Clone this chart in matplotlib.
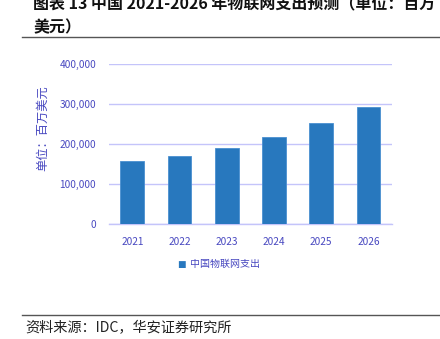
import matplotlib.pyplot as plt
from matplotlib.lines import Line2D
from matplotlib.ticker import FuncFormatter

plt.rcParams['font.family'] = ['Noto Sans CJK SC', 'DejaVu Sans']

# 中国物联网支出（百万美元）
years = ['2021', '2022', '2023', '2024', '2025', '2026']
spend = [157500, 170000, 190000, 217500, 252500, 293000]
yticks = [0, 100000, 200000, 300000, 400000]

bar_color = '#2878BE'
text_color = '#4848C0'
grid_color = '#C4C4FA'

fig = plt.figure(figsize=(4.4, 3.39), dpi=100)
ax = fig.add_axes([0.247, 0.338, 0.644, 0.472])

x = range(len(years))
ax.bar(x, spend, width=0.5, color=bar_color, edgecolor='#4A8FD0', linewidth=0.6, zorder=3)
ax.set_xlim(-0.5, len(years) - 0.5)
ax.set_ylim(0, 400000)
ax.set_xticks(list(x))
ax.set_xticklabels(years)
ax.set_yticks(yticks)
ax.yaxis.set_major_formatter(FuncFormatter(lambda v, p: '{:,.0f}'.format(v)))
ax.tick_params(axis='both', length=0, labelsize=7.3, labelcolor=text_color, pad=9)
ax.tick_params(axis='y', pad=9)
ax.grid(axis='y', color=grid_color, linewidth=1.0, zorder=0)
for s in ['top', 'right', 'left']:
    ax.spines[s].set_visible(False)
ax.spines['bottom'].set_color(grid_color)
ax.spines['bottom'].set_linewidth(1.0)

fig.text(0.098, 0.622, '单位：百万美元', rotation=90, ha='center', va='center',
         fontsize=8.8, color=text_color)

# 图例
fig.text(0.413, 0.221, '■', ha='center', va='center', fontsize=6.5, color=bar_color,
         family=['DejaVu Sans'])
fig.text(0.432, 0.221, '中国物联网支出', ha='left', va='center', fontsize=7.2, color=text_color)

# 标题与来源
fig.text(0.075, 0.99, '图表 13 中国 2021-2026 年物联网支出预测（单位：百万',
         ha='left', va='center', fontsize=11.5, fontweight='bold', color='#111111')
fig.text(0.075, 0.919, '美元）', ha='left', va='center', fontsize=11.5,
         fontweight='bold', color='#111111')
fig.add_artist(Line2D([0.05, 1.0], [0.891, 0.891], color='#555555', linewidth=1.0))
fig.add_artist(Line2D([0.05, 1.0], [0.071, 0.071], color='#555555', linewidth=1.0))
fig.text(0.057, 0.031, '资料来源：IDC，华安证券研究所', ha='left', va='center',
         fontsize=10.2, color='#222222')

fig.savefig('out.png', dpi=100)
